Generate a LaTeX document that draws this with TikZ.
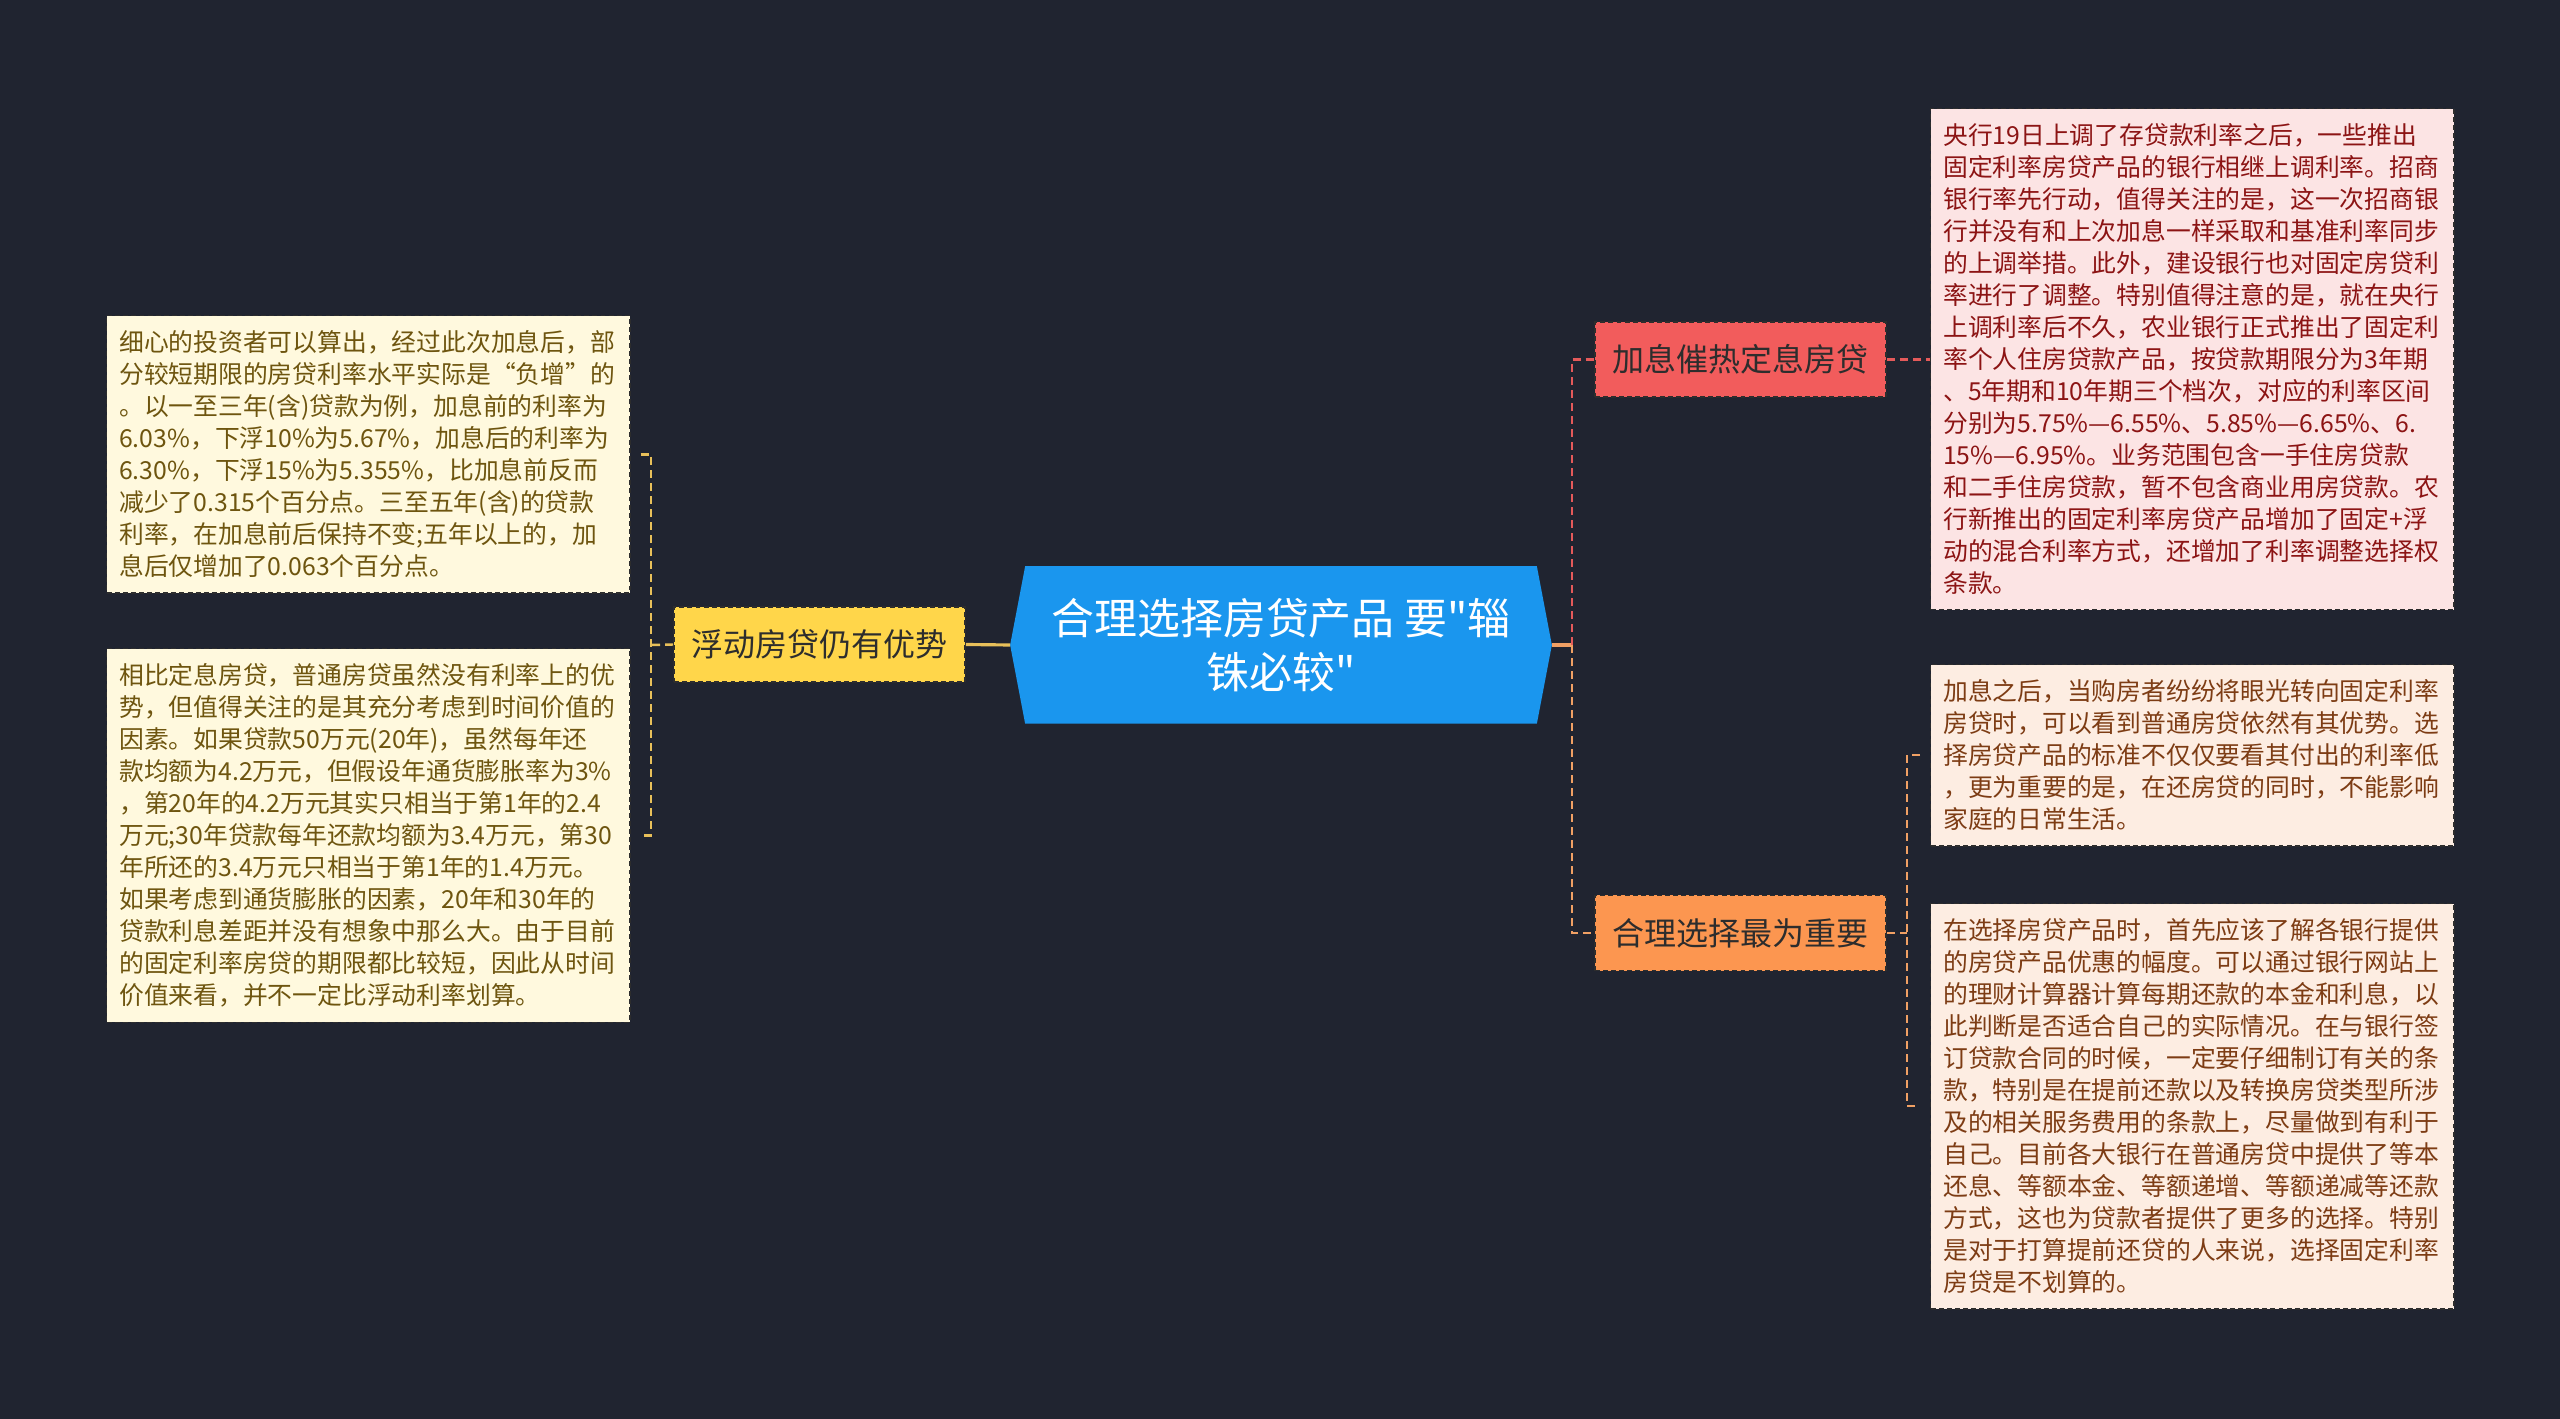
\documentclass[tikz,border=0pt]{standalone}
\usepackage{fontspec}
\setmainfont{Noto Sans CJK SC}
\newfontfamily\titlefont{Noto Sans CJK SC}
\usepackage{tikz}
\usetikzlibrary{positioning, calc, backgrounds}
\definecolor{mybg}{RGB}{32,36,48}
\definecolor{myblue}{RGB}{26,150,238}
\definecolor{myyellow}{RGB}{255,214,74}
\definecolor{myred}{RGB}{242,92,92}
\definecolor{myorange}{RGB}{252,150,80}
\definecolor{mydark}{RGB}{45,45,45}
\definecolor{hdryellow}{RGB}{255,249,222}
\definecolor{hdrred}{RGB}{252,228,228}
\definecolor{hdrorange}{RGB}{253,237,226}
\definecolor{txtyellow}{RGB}{110,85,15}
\definecolor{txtred}{RGB}{140,20,20}
\definecolor{txtorange}{RGB}{125,60,20}
\definecolor{lnkyellow}{RGB}{232,192,90}
\definecolor{lnkred}{RGB}{228,90,90}
\definecolor{lnkorange}{RGB}{240,160,100}
\tikzset{
  topic/.style={rectangle, draw=mydark, dash pattern=on 1.4pt off 0.9pt,
    line width=0.4pt, minimum width=2.91cm, minimum height=0.75cm,
    inner sep=0pt, font=\fontsize{9.1pt}{11pt}\selectfont, text=mydark},
  yellowtopic/.style={topic, fill=myyellow},
  redtopic/.style={topic, fill=myred},
  orangetopic/.style={topic, fill=myorange},
  note/.style={rectangle, draw=mydark, dash pattern=on 1.4pt off 0.9pt,
    line width=0.4pt, text width=4.98cm, align=left, anchor=north west,
    inner xsep=0.125cm, inner ysep=0.15cm,
    font=\fontsize{7.05pt}{9.1pt}\selectfont},
  yellownote/.style={note, fill=hdryellow, text=txtyellow},
  rednote/.style={note, fill=hdrred, text=txtred},
  orangenote/.style={note, fill=hdrorange, text=txtorange},
  link/.style={line width=0.7pt, dash pattern=on 0.08cm off 0.05cm},
  yellowlink/.style={link, color=lnkyellow},
  redlink/.style={link, color=lnkred},
  orangelink/.style={link, color=lnkorange}
}

\begin{document}
\begin{tikzpicture}[x=0.01cm, y=-0.01cm]
  \useasboundingbox (0,0) rectangle (2560,1419);

  % Central topic
  \node[text=white, align=center, minimum width=5.1cm, minimum height=1.56cm,
    inner sep=0pt, font=\titlefont\fontsize{12.2pt}{15.4pt}\selectfont] (title) at (1281,645)
    {合理选择房贷产品 要"辎\\铢必较"};
  \coordinate (title-l) at ([xshift=-0.15cm]title.west);
  \coordinate (title-r) at ([xshift=0.15cm]title.east);
  \begin{scope}[on background layer]
    \fill[mybg] (0,0) rectangle (2560,1419);
    \fill[myblue] (title.north west) -- (title.north east) -- (title-r)
      -- (title.south east) -- (title.south west) -- (title-l) -- cycle;
  \end{scope}

  % Left branch
  \node[yellowtopic] (float) at (819.5,644.5) {浮动房贷仍有优势};
  \node[yellownote] (floatA) at (106,315) {细心的投资者可以算出，经过此次加息后，部\\
    分较短期限的房贷利率水平实际是“负增”的\\
    。以一至三年(含)贷款为例，加息前的利率为\\
    6.03\%，下浮10\%为5.67\%，加息后的利率为\\
    6.30\%，下浮15\%为5.355\%，比加息前反而\\
    减少了0.315个百分点。三至五年(含)的贷款\\
    利率，在加息前后保持不变;五年以上的，加\\
    息后仅增加了0.063个百分点。};
  \node[yellownote] (floatB) at (106,648) {相比定息房贷，普通房贷虽然没有利率上的优\\
    势，但值得关注的是其充分考虑到时间价值的\\
    因素。如果贷款50万元(20年)，虽然每年还\\
    款均额为4.2万元，但假设年通货膨胀率为3\%\\
    ，第20年的4.2万元其实只相当于第1年的2.4\\
    万元;30年贷款每年还款均额为3.4万元，第30\\
    年所还的3.4万元只相当于第1年的1.4万元。\\
    如果考虑到通货膨胀的因素，20年和30年的\\
    贷款利息差距并没有想象中那么大。由于目前\\
    的固定利率房贷的期限都比较短，因此从时间\\
    价值来看，并不一定比浮动利率划算。};
  \coordinate (lbr) at (651,645);
  \draw[lnkyellow, line width=0.9pt] (title-l) -- (float.east);
  \draw[yellowlink] (float.west) -- (lbr);
  \draw[yellowlink] ([xshift=0.1cm]floatA.east) -| (lbr) |- ([xshift=0.1cm]floatB.east);

  % Right branches
  \node[redtopic] (fixed) at (1740.5,359.5) {加息催热定息房贷};
  \node[orangetopic] (choice) at (1740.5,933) {合理选择最为重要};
  \coordinate (rbr) at (1572,645);
  \draw[lnkorange, line width=0.9pt] (title-r) -- (rbr);
  \draw[redlink] (rbr) |- (fixed.west);
  \draw[orangelink] (rbr) |- (choice.west);

  \node[rednote] (fixedA) at (1930,108) {央行19日上调了存贷款利率之后，一些推出\\
    固定利率房贷产品的银行相继上调利率。招商\\
    银行率先行动，值得关注的是，这一次招商银\\
    行并没有和上次加息一样采取和基准利率同步\\
    的上调举措。此外，建设银行也对固定房贷利\\
    率进行了调整。特别值得注意的是，就在央行\\
    上调利率后不久，农业银行正式推出了固定利\\
    率个人住房贷款产品，按贷款期限分为3年期\\
    、5年期和10年期三个档次，对应的利率区间\\
    分别为5.75\%—6.55\%、5.85\%—6.65\%、6.\\
    15\%—6.95\%。业务范围包含一手住房贷款\\
    和二手住房贷款，暂不包含商业用房贷款。农\\
    行新推出的固定利率房贷产品增加了固定+浮\\
    动的混合利率方式，还增加了利率调整选择权\\
    条款。};
  \draw[redlink] (fixed.east) -- (fixed.east -| fixedA.west);

  \node[orangenote] (choiceA) at (1930,664) {加息之后，当购房者纷纷将眼光转向固定利率\\
    房贷时，可以看到普通房贷依然有其优势。选\\
    择房贷产品的标准不仅仅要看其付出的利率低\\
    ，更为重要的是，在还房贷的同时，不能影响\\
    家庭的日常生活。};
  \node[orangenote] (choiceB) at (1930,903) {在选择房贷产品时，首先应该了解各银行提供\\
    的房贷产品优惠的幅度。可以通过银行网站上\\
    的理财计算器计算每期还款的本金和利息，以\\
    此判断是否适合自己的实际情况。在与银行签\\
    订贷款合同的时候，一定要仔细制订有关的条\\
    款，特别是在提前还款以及转换房贷类型所涉\\
    及的相关服务费用的条款上，尽量做到有利于\\
    自己。目前各大银行在普通房贷中提供了等本\\
    还息、等额本金、等额递增、等额递减等还款\\
    方式，这也为贷款者提供了更多的选择。特别\\
    是对于打算提前还贷的人来说，选择固定利率\\
    房贷是不划算的。};
  \coordinate (obr) at (1907,933);
  \draw[orangelink] (choice.east) -- (obr);
  \draw[orangelink] ([xshift=-0.1cm]choiceA.west) -| (obr) |- ([xshift=-0.1cm]choiceB.west);
\end{tikzpicture}
\end{document}
